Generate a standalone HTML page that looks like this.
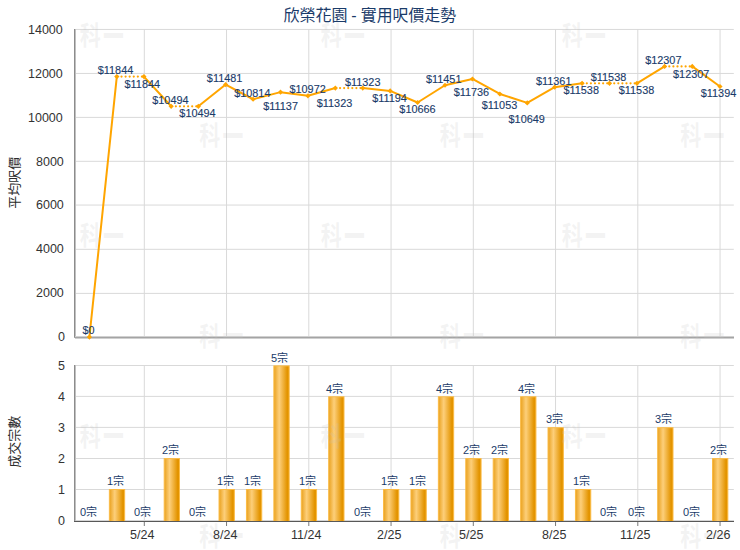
<!DOCTYPE html>
<html><head><meta charset="utf-8"><title>欣榮花園 - 實用呎價走勢</title>
<style>html,body{margin:0;padding:0;background:#fff}svg{display:block}text{font-family:"Liberation Sans","Noto Sans CJK TC",sans-serif}.dl{font-size:10.9px;fill:#1a3b69;stroke:#1a3b69;stroke-width:0.12px;text-anchor:middle}.bl{font-size:11px;fill:#1a3b69}.ax{font-size:12.5px;fill:#333}.wm{font-weight:bold}</style></head><body>
<svg width="740" height="550" viewBox="0 0 740 550" role="img" aria-label="欣榮花園 - 實用呎價走勢">
<title>欣榮花園 - 實用呎價走勢 (平均呎價 / 成交宗數)</title>
<defs>
<linearGradient id="bg" x1="0" y1="0" x2="1" y2="0"><stop offset="0.03" stop-color="#eba526"/><stop offset="0.35" stop-color="#fdcf7a"/><stop offset="0.87" stop-color="#e39400"/><stop offset="1" stop-color="#e39400"/></linearGradient>
</defs>
<rect width="740" height="550" fill="#fff"/>
<g stroke="#d9d9d9" stroke-width="1" fill="none">
<line x1="76" x2="733.8" y1="29.45" y2="29.45"/>
<line x1="76" x2="733.8" y1="73.45" y2="73.45"/>
<line x1="76" x2="733.8" y1="117.40" y2="117.40"/>
<line x1="76" x2="733.8" y1="161.30" y2="161.30"/>
<line x1="76" x2="733.8" y1="205.05" y2="205.05"/>
<line x1="76" x2="733.8" y1="249.30" y2="249.30"/>
<line x1="76" x2="733.8" y1="293.40" y2="293.40"/>
<line x1="76" x2="733.8" y1="365.50" y2="365.50"/>
<line x1="76" x2="733.8" y1="396.40" y2="396.40"/>
<line x1="76" x2="733.8" y1="427.40" y2="427.40"/>
<line x1="76" x2="733.8" y1="458.50" y2="458.50"/>
<line x1="76" x2="733.8" y1="489.50" y2="489.50"/>
<line x1="144.30" x2="144.30" y1="29" y2="336.5"/>
<line x1="226.55" x2="226.55" y1="29" y2="336.5"/>
<line x1="308.80" x2="308.80" y1="29" y2="336.5"/>
<line x1="391.05" x2="391.05" y1="29" y2="336.5"/>
<line x1="473.30" x2="473.30" y1="29" y2="336.5"/>
<line x1="555.55" x2="555.55" y1="29" y2="336.5"/>
<line x1="637.80" x2="637.80" y1="29" y2="336.5"/>
<line x1="720.05" x2="720.05" y1="29" y2="336.5"/>
<line x1="144.30" x2="144.30" y1="365" y2="520.5"/>
<line x1="226.55" x2="226.55" y1="365" y2="520.5"/>
<line x1="308.80" x2="308.80" y1="365" y2="520.5"/>
<line x1="391.05" x2="391.05" y1="365" y2="520.5"/>
<line x1="473.30" x2="473.30" y1="365" y2="520.5"/>
<line x1="555.55" x2="555.55" y1="365" y2="520.5"/>
<line x1="637.80" x2="637.80" y1="365" y2="520.5"/>
<line x1="720.05" x2="720.05" y1="365" y2="520.5"/>
</g>
<rect x="75" y="520" width="659" height="1" fill="#d6d6d6" shape-rendering="crispEdges"/>
<g fill="url(#bg)" stroke="#fbbb45" stroke-width="1">
<rect x="109.36" y="489.50" width="15.3" height="32.00"/>
<rect x="164.20" y="458.60" width="15.3" height="62.90"/>
<rect x="219.03" y="489.50" width="15.3" height="32.00"/>
<rect x="246.45" y="489.50" width="15.3" height="32.00"/>
<rect x="273.87" y="365.90" width="15.3" height="155.60"/>
<rect x="301.28" y="489.50" width="15.3" height="32.00"/>
<rect x="328.70" y="396.80" width="15.3" height="124.70"/>
<rect x="383.53" y="489.50" width="15.3" height="32.00"/>
<rect x="410.95" y="489.50" width="15.3" height="32.00"/>
<rect x="438.37" y="396.80" width="15.3" height="124.70"/>
<rect x="465.78" y="458.60" width="15.3" height="62.90"/>
<rect x="493.20" y="458.60" width="15.3" height="62.90"/>
<rect x="520.62" y="396.80" width="15.3" height="124.70"/>
<rect x="548.03" y="427.70" width="15.3" height="93.80"/>
<rect x="575.45" y="489.50" width="15.3" height="32.00"/>
<rect x="657.70" y="427.70" width="15.3" height="93.80"/>
<rect x="712.53" y="458.60" width="15.3" height="62.90"/>
</g>
<g shape-rendering="crispEdges">
<rect x="74" y="29" width="1" height="308" fill="#8c8c8c"/><rect x="75" y="29" width="1" height="309" fill="#c0c0c0"/>
<rect x="74" y="365" width="1" height="157" fill="#8c8c8c"/><rect x="75" y="365" width="1" height="156" fill="#c0c0c0"/>
<rect x="75" y="336" width="659" height="1" fill="#d0d0d0"/><rect x="74" y="337" width="660" height="1" fill="#a4a4a4"/><rect x="75" y="338" width="659" height="1" fill="#cfcfcf"/>
<rect x="74" y="521" width="660" height="1" fill="#585858"/><rect x="74" y="522" width="660" height="1" fill="#fff"/>
</g>
<line x1="144.30" x2="144.30" y1="522" y2="526" stroke="#7a7a7a" stroke-width="1"/>
<line x1="226.55" x2="226.55" y1="522" y2="526" stroke="#7a7a7a" stroke-width="1"/>
<line x1="308.80" x2="308.80" y1="522" y2="526" stroke="#7a7a7a" stroke-width="1"/>
<line x1="391.05" x2="391.05" y1="522" y2="526" stroke="#7a7a7a" stroke-width="1"/>
<line x1="473.30" x2="473.30" y1="522" y2="526" stroke="#7a7a7a" stroke-width="1"/>
<line x1="555.55" x2="555.55" y1="522" y2="526" stroke="#7a7a7a" stroke-width="1"/>
<line x1="637.80" x2="637.80" y1="522" y2="526" stroke="#7a7a7a" stroke-width="1"/>
<line x1="720.05" x2="720.05" y1="522" y2="526" stroke="#7a7a7a" stroke-width="1"/>
<g fill="none" stroke="#ffa500" stroke-width="2" stroke-linejoin="round" stroke-linecap="round">
<polyline points="89.40,337.05 116.81,76.60"/>
<polyline points="143.93,76.60 171.15,106.29"/>
<polyline points="198.37,106.29 225.68,84.58 253.10,99.25 280.51,92.15 307.93,95.78 335.35,88.06"/>
<polyline points="362.76,88.06 390.18,90.89 417.60,102.50 445.01,85.24 472.43,78.98 499.85,93.99 527.27,102.88 554.68,87.22 582.10,83.33"/>
<polyline points="636.93,83.33 664.60,66.42"/>
<polyline points="692.27,66.42 719.98,86.50"/>
</g>
<g fill="none" stroke="#ffa500" stroke-width="2.2" stroke-linecap="round" stroke-dasharray="0.01 4.07">
<line x1="117.44" y1="76.60" x2="141.93" y2="76.60"/>
<line x1="171.78" y1="106.29" x2="196.37" y2="106.29"/>
<line x1="335.98" y1="88.06" x2="360.76" y2="88.06"/>
<line x1="582.73" y1="83.33" x2="607.52" y2="83.33"/>
<line x1="610.15" y1="83.33" x2="634.93" y2="83.33"/>
<line x1="665.23" y1="66.42" x2="690.27" y2="66.42"/>
</g>
<g fill="#ffa500">
<path d="M86.80 337.05l2.6 -2.6l2.6 2.6l-2.6 2.6z"/>
<path d="M114.22 76.60l2.6 -2.6l2.6 2.6l-2.6 2.6z"/>
<path d="M141.33 76.60l2.6 -2.6l2.6 2.6l-2.6 2.6z"/>
<path d="M168.55 106.29l2.6 -2.6l2.6 2.6l-2.6 2.6z"/>
<path d="M195.77 106.29l2.6 -2.6l2.6 2.6l-2.6 2.6z"/>
<path d="M223.08 84.58l2.6 -2.6l2.6 2.6l-2.6 2.6z"/>
<path d="M250.50 99.25l2.6 -2.6l2.6 2.6l-2.6 2.6z"/>
<path d="M277.91 92.15l2.6 -2.6l2.6 2.6l-2.6 2.6z"/>
<path d="M305.33 95.78l2.6 -2.6l2.6 2.6l-2.6 2.6z"/>
<path d="M332.75 88.06l2.6 -2.6l2.6 2.6l-2.6 2.6z"/>
<path d="M360.16 88.06l2.6 -2.6l2.6 2.6l-2.6 2.6z"/>
<path d="M387.58 90.89l2.6 -2.6l2.6 2.6l-2.6 2.6z"/>
<path d="M415.00 102.50l2.6 -2.6l2.6 2.6l-2.6 2.6z"/>
<path d="M442.41 85.24l2.6 -2.6l2.6 2.6l-2.6 2.6z"/>
<path d="M469.83 78.98l2.6 -2.6l2.6 2.6l-2.6 2.6z"/>
<path d="M497.25 93.99l2.6 -2.6l2.6 2.6l-2.6 2.6z"/>
<path d="M524.67 102.88l2.6 -2.6l2.6 2.6l-2.6 2.6z"/>
<path d="M552.08 87.22l2.6 -2.6l2.6 2.6l-2.6 2.6z"/>
<path d="M579.50 83.33l2.6 -2.6l2.6 2.6l-2.6 2.6z"/>
<path d="M606.92 83.33l2.6 -2.6l2.6 2.6l-2.6 2.6z"/>
<path d="M634.33 83.33l2.6 -2.6l2.6 2.6l-2.6 2.6z"/>
<path d="M662.00 66.42l2.6 -2.6l2.6 2.6l-2.6 2.6z"/>
<path d="M689.67 66.42l2.6 -2.6l2.6 2.6l-2.6 2.6z"/>
<path d="M717.38 86.50l2.6 -2.6l2.6 2.6l-2.6 2.6z"/>
</g>
<g fill="#c4c4c4" fill-opacity="0.2" class="wm">
<text transform="translate(79.7 45.2) scale(1 1.244)" font-size="21.1">科</text>
<text transform="translate(103.0 49.9) scale(1 1.8125)" font-size="20.8">一</text>
<text transform="translate(320.7 45.2) scale(1 1.244)" font-size="21.1">科</text>
<text transform="translate(344.0 49.9) scale(1 1.8125)" font-size="20.8">一</text>
<text transform="translate(561.7 45.2) scale(1 1.244)" font-size="21.1">科</text>
<text transform="translate(585.0 49.9) scale(1 1.8125)" font-size="20.8">一</text>
<text transform="translate(199.2 145.3) scale(1 1.244)" font-size="21.1">科</text>
<text transform="translate(222.5 150.0) scale(1 1.8125)" font-size="20.8">一</text>
<text transform="translate(439.7 145.3) scale(1 1.244)" font-size="21.1">科</text>
<text transform="translate(463.0 150.0) scale(1 1.8125)" font-size="20.8">一</text>
<text transform="translate(680.2 145.3) scale(1 1.244)" font-size="21.1">科</text>
<text transform="translate(703.5 150.0) scale(1 1.8125)" font-size="20.8">一</text>
<text transform="translate(79.7 245.4) scale(1 1.244)" font-size="21.1">科</text>
<text transform="translate(103.0 250.1) scale(1 1.8125)" font-size="20.8">一</text>
<text transform="translate(320.7 245.4) scale(1 1.244)" font-size="21.1">科</text>
<text transform="translate(344.0 250.1) scale(1 1.8125)" font-size="20.8">一</text>
<text transform="translate(561.7 245.4) scale(1 1.244)" font-size="21.1">科</text>
<text transform="translate(585.0 250.1) scale(1 1.8125)" font-size="20.8">一</text>
<text transform="translate(199.2 345.5) scale(1 1.244)" font-size="21.1">科</text>
<text transform="translate(222.5 350.2) scale(1 1.8125)" font-size="20.8">一</text>
<text transform="translate(439.7 345.5) scale(1 1.244)" font-size="21.1">科</text>
<text transform="translate(463.0 350.2) scale(1 1.8125)" font-size="20.8">一</text>
<text transform="translate(680.2 345.5) scale(1 1.244)" font-size="21.1">科</text>
<text transform="translate(703.5 350.2) scale(1 1.8125)" font-size="20.8">一</text>
<text transform="translate(79.7 445.6) scale(1 1.244)" font-size="21.1">科</text>
<text transform="translate(103.0 450.3) scale(1 1.8125)" font-size="20.8">一</text>
<text transform="translate(320.7 445.6) scale(1 1.244)" font-size="21.1">科</text>
<text transform="translate(344.0 450.3) scale(1 1.8125)" font-size="20.8">一</text>
<text transform="translate(561.7 445.6) scale(1 1.244)" font-size="21.1">科</text>
<text transform="translate(585.0 450.3) scale(1 1.8125)" font-size="20.8">一</text>
<text transform="translate(199.2 545.7) scale(1 1.244)" font-size="21.1">科</text>
<text transform="translate(222.5 550.4) scale(1 1.8125)" font-size="20.8">一</text>
<text transform="translate(439.7 545.7) scale(1 1.244)" font-size="21.1">科</text>
<text transform="translate(463.0 550.4) scale(1 1.8125)" font-size="20.8">一</text>
<text transform="translate(680.2 545.7) scale(1 1.244)" font-size="21.1">科</text>
<text transform="translate(703.5 550.4) scale(1 1.8125)" font-size="20.8">一</text>
</g>
<text class="dl" transform="translate(88.5 334.3) scale(1 1.075)">$0</text>
<text class="dl" transform="translate(115.5 74.1) scale(1 1.075)">$11844</text>
<text class="dl" transform="translate(142.3 87.5) scale(1 1.075)">$11844</text>
<text class="dl" transform="translate(170.4 104.2) scale(1 1.075)">$10494</text>
<text class="dl" transform="translate(197.5 117.4) scale(1 1.075)">$10494</text>
<text class="dl" transform="translate(224.6 82.3) scale(1 1.075)">$11481</text>
<text class="dl" transform="translate(252.3 97.1) scale(1 1.075)">$10814</text>
<text class="dl" transform="translate(280.6 110.2) scale(1 1.075)">$11137</text>
<text class="dl" transform="translate(307.6 93.4) scale(1 1.075)">$10972</text>
<text class="dl" transform="translate(334.5 107.0) scale(1 1.075)">$11323</text>
<text class="dl" transform="translate(362.7 86.4) scale(1 1.075)">$11323</text>
<text class="dl" transform="translate(389.5 102.2) scale(1 1.075)">$11194</text>
<text class="dl" transform="translate(417.5 113.1) scale(1 1.075)">$10666</text>
<text class="dl" transform="translate(443.7 82.9) scale(1 1.075)">$11451</text>
<text class="dl" transform="translate(471.4 96.0) scale(1 1.075)">$11736</text>
<text class="dl" transform="translate(499.5 109.3) scale(1 1.075)">$11053</text>
<text class="dl" transform="translate(526.7 123.2) scale(1 1.075)">$10649</text>
<text class="dl" transform="translate(553.7 85.3) scale(1 1.075)">$11361</text>
<text class="dl" transform="translate(581.2 94.0) scale(1 1.075)">$11538</text>
<text class="dl" transform="translate(608.5 81.2) scale(1 1.075)">$11538</text>
<text class="dl" transform="translate(636.5 93.9) scale(1 1.075)">$11538</text>
<text class="dl" transform="translate(663.3 64.3) scale(1 1.075)">$12307</text>
<text class="dl" transform="translate(691.2 77.5) scale(1 1.075)">$12307</text>
<text class="dl" transform="translate(718.5 97.4) scale(1 1.075)">$11394</text>
<g class="bl">
<text x="80" y="516">0宗</text>
<text x="107" y="485">1宗</text>
<text x="134" y="516">0宗</text>
<text x="162" y="454">2宗</text>
<text x="189" y="516">0宗</text>
<text x="217" y="485">1宗</text>
<text x="244" y="485">1宗</text>
<text x="271" y="362">5宗</text>
<text x="299" y="485">1宗</text>
<text x="326" y="393">4宗</text>
<text x="354" y="516">0宗</text>
<text x="381" y="485">1宗</text>
<text x="409" y="485">1宗</text>
<text x="436" y="393">4宗</text>
<text x="463" y="454">2宗</text>
<text x="491" y="454">2宗</text>
<text x="518" y="393">4宗</text>
<text x="546" y="423">3宗</text>
<text x="573" y="485">1宗</text>
<text x="600" y="516">0宗</text>
<text x="628" y="516">0宗</text>
<text x="655" y="423">3宗</text>
<text x="683" y="516">0宗</text>
<text x="710" y="454">2宗</text>
</g>
<g class="ax">
<text x="58" y="341">0</text>
<text x="36" y="297">2000</text>
<text x="36" y="253">4000</text>
<text x="36" y="209">6000</text>
<text x="36" y="166">8000</text>
<text x="28" y="122">10000</text>
<text x="28" y="78">12000</text>
<text x="28" y="34">14000</text>
<text x="58" y="525">0</text>
<text x="58" y="494">1</text>
<text x="58" y="463">2</text>
<text x="58" y="432">3</text>
<text x="58" y="401">4</text>
<text x="58" y="370">5</text>
<text x="130" y="539">5/24</text>
<text x="213" y="539">8/24</text>
<text x="291" y="539">11/24</text>
<text x="377" y="539">2/25</text>
<text x="459" y="539">5/25</text>
<text x="542" y="539">8/25</text>
<text x="620" y="539">11/25</text>
<text x="706" y="539">2/26</text>
</g>
<text x="283.5" y="21.38" style="font-size:16px;fill:#1a3b69">欣榮花園</text>
<text x="351.2" y="21" style="font-size:16px;fill:#1a3b69">-</text>
<text x="360.8" y="21.38" style="font-size:15.9px;fill:#1a3b69">實用呎價走勢</text>
<g transform="translate(14.3 182.8) rotate(-90)" fill="#2b2b2b">
<text x="-26" y="4.94" font-size="13">平均呎價</text>
</g>
<g transform="translate(14.0 441.8) rotate(-90)" fill="#2b2b2b">
<text x="-26" y="4.94" font-size="13">成交宗數</text>
</g>
</svg></body></html>
